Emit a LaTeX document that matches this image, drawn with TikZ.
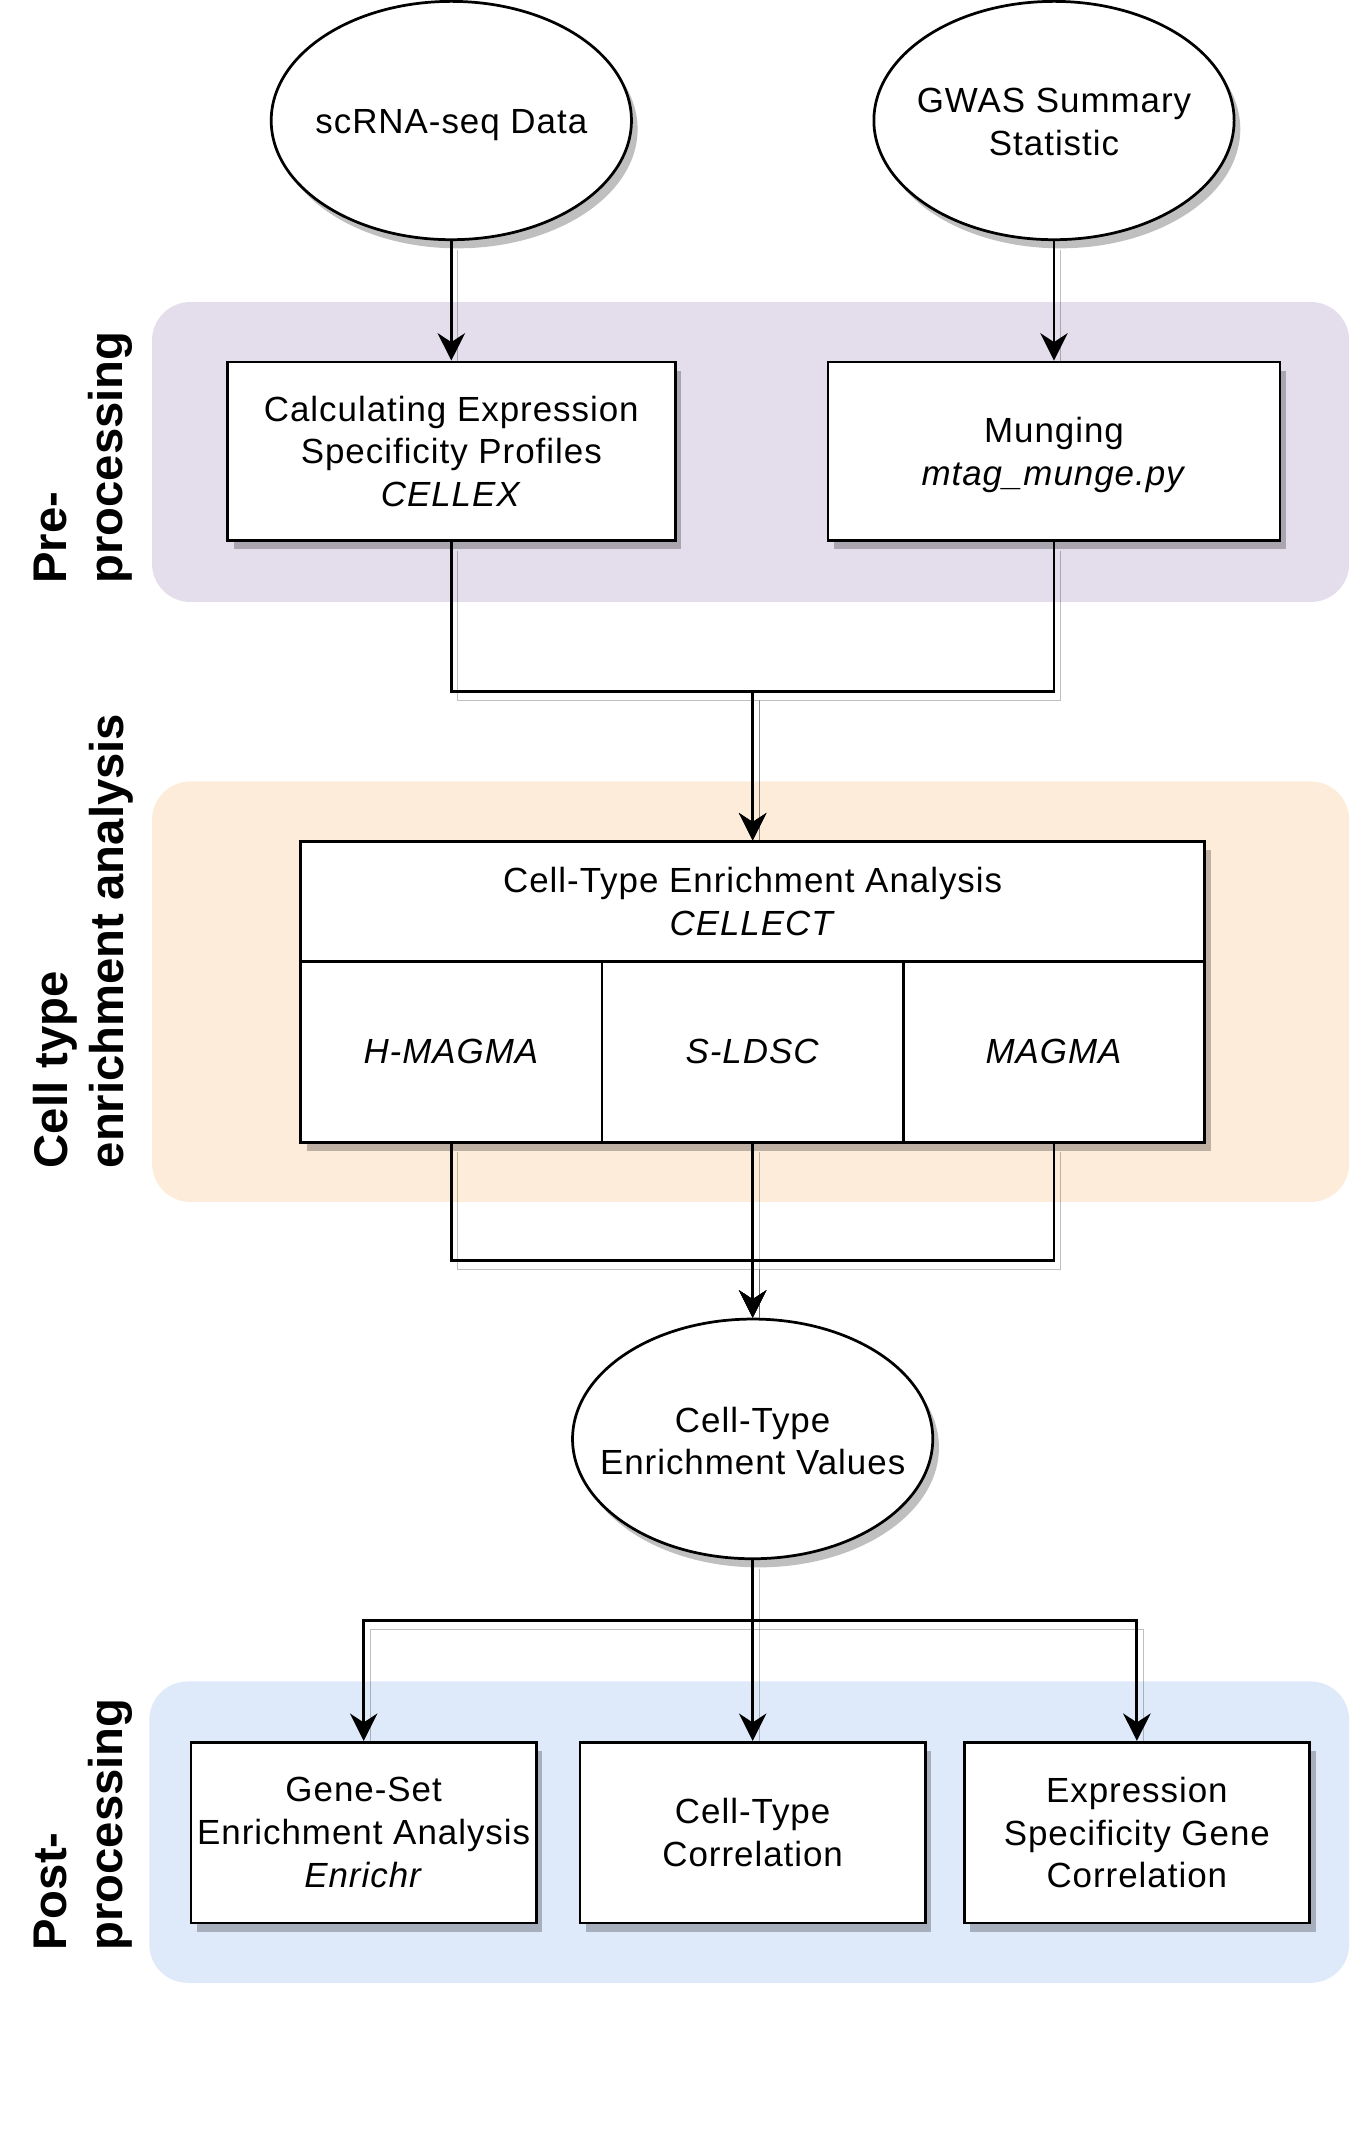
\documentclass[tikz,border=0pt]{standalone}
\usepackage{fontspec}
\setmainfont{Liberation Sans}[LetterSpace=2.8]
\newfontfamily\lblfont{Liberation Sans}
\usetikzlibrary{shapes.geometric,shadows,arrows.meta}
\pgfdeclarelayer{bg}
\pgfdeclarelayer{conn}
\pgfsetlayers{bg,conn,main}
\definecolor{prebg}{RGB}{228,222,236}
\definecolor{cellbg}{RGB}{254,236,218}
\definecolor{postbg}{RGB}{222,234,250}
\tikzset{
  txt/.style={font=\fontsize{25.5}{31.2}\selectfont, align=center, inner sep=0pt},
  shad/.style={drop shadow={shadow xshift=4.5pt,shadow yshift=-6.3pt,opacity=0.25,fill=black}},
  boxnode/.style={txt, draw=black, line width=2pt, fill=white, shad, rectangle},
  ellnode/.style={ellipse, draw=black, line width=2pt, fill=white, shad, inner sep=0pt,
    minimum width=263pt, minimum height=174pt},
  band/.style={rectangle, rounded corners=28pt, inner sep=0pt},
  lbl/.style={rotate=90, align=left, inner sep=0pt,
    font={\lblfont\fontsize{34.5}{41}\selectfont\bfseries}},
  conn/.style={line width=2.1pt, -{Stealth[length=20pt,width=20pt,inset=6.5pt]},
    preaction={draw=black, draw opacity=0.25, arrows=-,
      transform canvas={xshift=4.5pt,yshift=-6.3pt}}},
  plain/.style={line width=2.1pt,
    preaction={draw=black, draw opacity=0.25,
      transform canvas={xshift=4.5pt,yshift=-6.3pt}}}
}
\begin{document}
\begin{tikzpicture}[x=1pt,y=-1pt]
\useasboundingbox (0,0) rectangle (990,1570.4);

% bands
\begin{pgfonlayer}{bg}
\node[band, fill=prebg, minimum width=874pt, minimum height=219pt] (preband) at (548,330) {};
\node[band, fill=cellbg, minimum width=874pt, minimum height=307pt] (cellband) at (548,724) {};
\node[band, fill=postbg, minimum width=876pt, minimum height=220pt] (postband) at (547,1337.6) {};
\end{pgfonlayer}

% section labels
\node[lbl] (lpre) at (61,334) {Pre-\\processing};
\node[lbl] (lcell) at (61,687) {Cell type\\enrichment analysis};
\node[lbl] (lpost) at (61,1332) {Post-\\processing};

% input ellipses
\node[ellnode] (e1) at (329.5,88) {};
\node[txt] (e1t) at ([yshift=-3.5pt]e1.center) {scRNA-seq Data};
\node[ellnode] (e2) at (769.5,88) {};
\node[txt] (e2t) at ([yshift=-1pt]e2.center) {GWAS Summary\\Statistic};

% preprocessing boxes
\node[boxnode, minimum width=327pt, minimum height=130.5pt] (b1) at (329.5,329.5)
  {Calculating Expression\\Specificity Profiles\\\textit{CELLEX}};
\node[boxnode, minimum width=330pt, minimum height=130.5pt, text depth=0pt] (b2) at (769.5,329.5)
  {Munging\\\textit{mtag\_munge.py}};

% CELLECT table
\node[boxnode, minimum width=660pt, minimum height=87.4pt] (head) at (549.5,658.3)
  {Cell-Type Enrichment Analysis\\\textit{CELLECT}};
\node[boxnode, minimum width=220pt, minimum height=132pt] (c1) at (329.5,768) {\textit{H-MAGMA}};
\node[boxnode, minimum width=220pt, minimum height=132pt] (c2) at (549.5,768) {\textit{S-LDSC}};
\node[boxnode, minimum width=220pt, minimum height=132pt] (c3) at (769.5,768) {\textit{MAGMA}};

% result ellipse
\node[ellnode, minimum height=175pt] (e3) at (549.5,1050.5) {};
\node[txt] (e3t) at ([yshift=-1.5pt]e3.center) {Cell-Type\\Enrichment Values};

% postprocessing boxes
\node[boxnode, minimum width=252pt, minimum height=132pt] (p1) at (265.5,1338)
  {Gene-Set\\Enrichment Analysis\\\textit{Enrichr}};
\node[boxnode, minimum width=252pt, minimum height=132pt] (p2) at (549.5,1338)
  {Cell-Type\\Correlation};
\node[boxnode, minimum width=252pt, minimum height=132pt] (p3) at (830,1338)
  {Expression\\Specificity Gene\\Correlation};

% junctions
\coordinate (j1) at (549.5,505);
\coordinate (j2) at (549.5,920);
\coordinate (j3) at (549.5,1183);

% connectors
\begin{pgfonlayer}{conn}
\draw[conn] (e1.south) -- (b1.north);
\draw[conn] (e2.south) -- (b2.north);
\draw[conn] (b1.south) |- (j1) -- (head.north);
\draw[conn] (b2.south) |- (j1) -- (head.north);
\draw[conn] (c1.south) |- (j2) -- (e3.north);
\draw[conn] (c3.south) |- (j2) -- (e3.north);
\draw[conn] (c2.south) -- (e3.north);
\draw[plain] (e3.south) -- (j3);
\draw[conn] (j3) -| (p1.north);
\draw[conn] (j3) -- (p2.north);
\draw[conn] (j3) -| (p3.north);
\end{pgfonlayer}
\end{tikzpicture}
\end{document}
